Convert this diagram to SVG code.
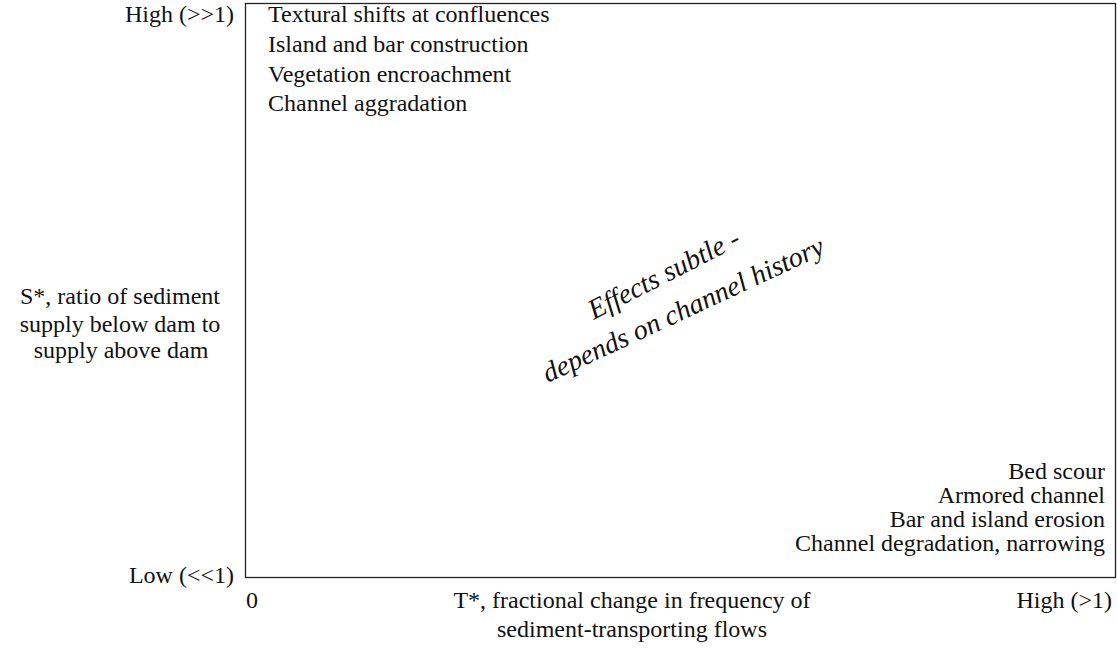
<svg xmlns="http://www.w3.org/2000/svg" width="1117" height="648" viewBox="0 0 1117 648">
<style>
text{font-family:"Liberation Serif","Times New Roman",serif;font-size:24px;fill:#111}
.r{text-anchor:end}
.m{text-anchor:middle}
.it{font-style:italic;font-size:28px;text-anchor:middle}
</style>
<rect width="1117" height="648" fill="#fff"/>
<g id="frame"><rect x="245.5" y="3.5" width="870" height="574" fill="none" stroke="#222" stroke-width="1.3"/></g>
<g id="y-axis-labels">
<text class="r" x="234" y="22">High (&gt;&gt;1)</text>
<text class="m" x="120" y="304">S*, ratio of sediment</text>
<text class="m" x="120" y="332">supply below dam to</text>
<text class="m" x="121" y="358">supply above dam</text>
<text class="r" x="234" y="583">Low (&lt;&lt;1)</text>
</g>
<g id="x-axis-labels">
<text x="246" y="608">0</text>
<text class="m" x="632" y="608">T*, fractional change in frequency of</text>
<text class="m" x="632" y="637">sediment-transporting flows</text>
<text class="r" x="1112" y="608">High (&gt;1)</text>
</g>
<g id="upper-left">
<text x="268" y="22">Textural shifts at confluences</text>
<text x="268" y="52">Island and bar construction</text>
<text x="268" y="82">Vegetation encroachment</text>
<text x="268" y="111">Channel aggradation</text>
</g>
<g id="lower-right">
<text class="r" x="1105" y="479">Bed scour</text>
<text class="r" x="1105" y="503">Armored channel</text>
<text class="r" x="1105" y="527">Bar and island erosion</text>
<text class="r" x="1105" y="551">Channel degradation, narrowing</text>
</g>
<g id="center-note">
<text class="it" transform="translate(668 282) rotate(-27)">Effects subtle -</text>
<text class="it" transform="translate(687 318) rotate(-25)">depends on channel history</text>
</g>
</svg>
